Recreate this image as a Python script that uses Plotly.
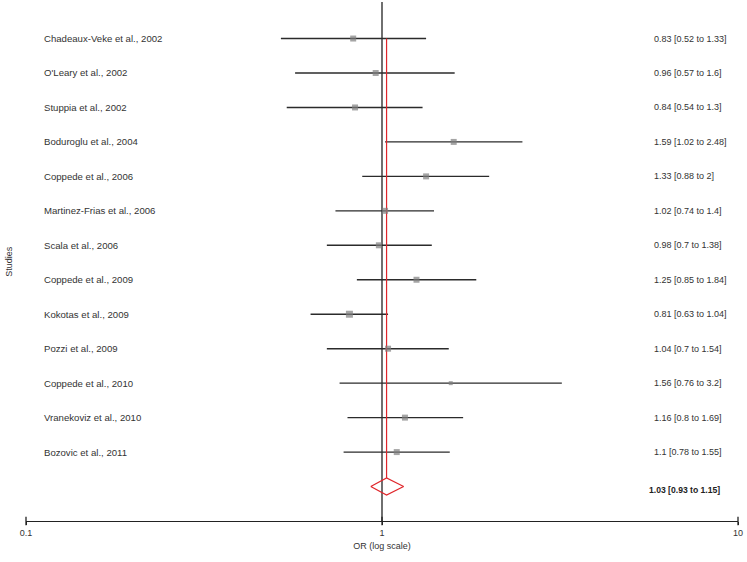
import plotly.graph_objects as go

studies = ["Chadeaux-Veke et al., 2002", "O'Leary et al., 2002", "Stuppia et al., 2002",
           "Boduroglu et al., 2004", "Coppede et al., 2006", "Martinez-Frias et al., 2006",
           "Scala et al., 2006", "Coppede et al., 2009", "Kokotas et al., 2009",
           "Pozzi et al., 2009", "Coppede et al., 2010", "Vranekoviz et al., 2010",
           "Bozovic et al., 2011"]
or_vals = [0.83, 0.96, 0.84, 1.59, 1.33, 1.02, 0.98, 1.25, 0.81, 1.04, 1.56, 1.16, 1.1]
ci_low = [0.52, 0.57, 0.54, 1.02, 0.88, 0.74, 0.7, 0.85, 0.63, 0.7, 0.76, 0.8, 0.78]
ci_high = [1.33, 1.6, 1.3, 2.48, 2, 1.4, 1.38, 1.84, 1.04, 1.54, 3.2, 1.69, 1.55]
weights = [6, 6, 6, 6, 6, 6, 6, 6, 7, 6, 4, 6, 6]
ci_text = ["0.83 [0.52 to 1.33]", "0.96 [0.57 to 1.6]", "0.84 [0.54 to 1.3]",
           "1.59 [1.02 to 2.48]", "1.33 [0.88 to 2]", "1.02 [0.74 to 1.4]",
           "0.98 [0.7 to 1.38]", "1.25 [0.85 to 1.84]", "0.81 [0.63 to 1.04]",
           "1.04 [0.7 to 1.54]", "1.56 [0.76 to 3.2]", "1.16 [0.8 to 1.69]",
           "1.1 [0.78 to 1.55]"]
summary_or = 1.03
summary_low = 0.93
summary_high = 1.15
summary_text = "1.03 [0.93 to 1.15]"
x_ticks = [0.1, 1, 10]
x_tick_labels = ["0.1", "1", "10"]

n = len(studies)
rows = list(range(n))
sum_row = n
y_bottom = 14.0
y_top = -1.06

fig = go.Figure()

# CI lines
xs, ys = [], []
for i in rows:
    xs += [ci_low[i], ci_high[i], None]
    ys += [i, i, None]
fig.add_trace(go.Scatter(x=xs, y=ys, mode="lines",
                         line=dict(color="#2b2b2b", width=1.4), hoverinfo="skip"))

# red summary line
fig.add_trace(go.Scatter(x=[summary_or, summary_or], y=[0, sum_row - 0.25], mode="lines",
                         line=dict(color="#e0262b", width=1.2), hoverinfo="skip"))

# diamond
fig.add_trace(go.Scatter(x=[summary_low, summary_or, summary_high, summary_or, summary_low],
                         y=[sum_row, sum_row - 0.25, sum_row, sum_row + 0.25, sum_row],
                         mode="lines", line=dict(color="#e0262b", width=1.2), hoverinfo="skip"))

# point estimates
fig.add_trace(go.Scatter(x=or_vals, y=rows, mode="markers",
                         marker=dict(symbol="square", size=weights, color="#7f7f7f",
                                     line=dict(width=0)), hoverinfo="skip"))

# crossing tick marks on the x axis
fig.add_trace(go.Scatter(x=x_ticks, y=[y_bottom] * len(x_ticks), mode="markers", cliponaxis=False,
                         marker=dict(symbol="line-ns", size=6, line=dict(color="#222222", width=1.3)),
                         hoverinfo="skip"))

fig.add_shape(type="line", xref="x", yref="paper", x0=1, x1=1, y0=0, y1=1,
              line=dict(color="#222222", width=1.3), layer="below")

font_family = "Liberation Sans, Arial"
annotations = []
for i in rows:
    annotations.append(dict(x=0.0225, xref="paper", y=i, yref="y", text=studies[i],
                            showarrow=False, xanchor="left", yanchor="middle",
                            font=dict(family=font_family, size=9.6, color="#333333")))
    annotations.append(dict(x=0.879, xref="paper", y=i, yref="y", text=ci_text[i],
                            showarrow=False, xanchor="left", yanchor="middle",
                            font=dict(family=font_family, size=9, color="#333333")))
annotations.append(dict(x=0.872, xref="paper", y=sum_row + 0.1, yref="y", text="<b>" + summary_text + "</b>",
                        showarrow=False, xanchor="left", yanchor="middle",
                        font=dict(family=font_family, size=8.6, color="#222222")))
annotations.append(dict(x=-0.025, xref="paper", y=0.5, yref="paper", text="Studies",
                        showarrow=False, textangle=-90, xanchor="center", yanchor="middle",
                        font=dict(family=font_family, size=9, color="#333333")))

fig.update_layout(
    width=747, height=562,
    margin=dict(l=26, r=9, t=2, b=41),
    paper_bgcolor="white", plot_bgcolor="white",
    showlegend=False,
    annotations=annotations,
    xaxis=dict(type="log", range=[-1, 1], tickvals=x_ticks, ticktext=x_tick_labels,
               showgrid=False, zeroline=False, showline=True, linecolor="#222222", linewidth=1.3,
               ticks="outside", ticklen=3, tickcolor="#222222", tickwidth=1.3,
               tickfont=dict(family=font_family, size=9, color="#333333"),
               title=dict(text="OR (log scale)", standoff=5,
                          font=dict(family=font_family, size=9, color="#333333"))),
    yaxis=dict(range=[y_bottom, y_top], visible=False, showgrid=False, zeroline=False),
)

fig.write_html("out.html", config={"displayModeBar": False},
               post_script="document.body.style.margin='0';document.body.style.overflow='hidden';")
